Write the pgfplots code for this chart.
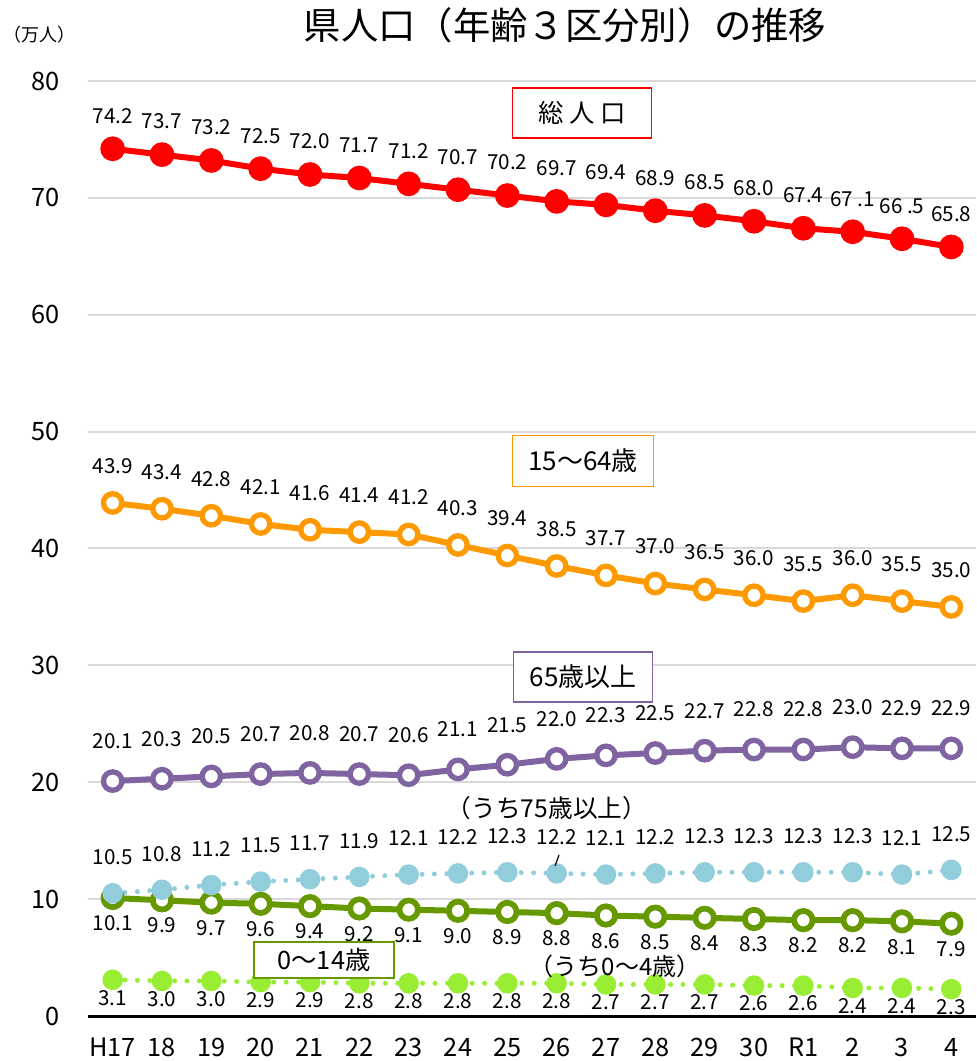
\documentclass[border=0pt]{standalone}
\usepackage{pgfplots}
\pgfplotsset{compat=1.18}
\usepackage{fontspec}
\setmainfont{Noto Sans CJK JP}
\definecolor{cRed}{RGB}{255,0,0}
\definecolor{cOrange}{RGB}{255,153,0}
\definecolor{cPurple}{RGB}{128,100,162}
\definecolor{cBlue}{RGB}{146,205,220}
\definecolor{cGreen}{RGB}{102,153,0}
\definecolor{cLime}{RGB}{153,238,51}
\definecolor{cGrid}{RGB}{217,217,217}
\begin{document}
\begin{tikzpicture}
\useasboundingbox (-66pt,-33.75pt) rectangle (666pt,762pt);
\begin{axis}[
  at={(0,0)}, anchor=south west,
  scale only axis, width=666pt, height=701.25pt,
  xmin=-0.5, xmax=17.5, ymin=0, ymax=80,
  xtick={0,...,17},
  xticklabels={H17,18,19,20,21,22,23,24,25,26,27,28,29,30,R1,2,3,4},
  ytick={0,10,...,80},
  ymajorgrids, grid style={cGrid, line width=1.5pt},
  axis x line=bottom, axis y line=left,
  axis line style={-}, y axis line style={draw=none},
  x axis line style={black, line width=2.25pt},
  major tick length=0pt,
  /pgf/number format/assume math mode=true,
  tick label style={font=\fontsize{19}{22}\selectfont},
  yticklabel style={anchor=east, inner sep=0pt, xshift=-21pt},
  xticklabel style={anchor=base, inner sep=0pt, yshift=-30.5pt},
  clip=false,
  nodes near coords style={font=\fontsize{15.5}{18}\selectfont, anchor=center, inner sep=0pt, text=black},
]
% total
\addplot[cRed, line width=4.5pt, mark=*, mark size=7pt, mark options={draw=none, fill=cRed},
  point meta=explicit symbolic, nodes near coords,
  every node near coord/.append style={yshift=24.75pt}]
coordinates {(0,74.2)[74.2] (1,73.7)[73.7] (2,73.2)[73.2] (3,72.5)[72.5] (4,72.0)[72.0] (5,71.7)[71.7]
 (6,71.2)[71.2] (7,70.7)[70.7] (8,70.2)[70.2] (9,69.7)[69.7] (10,69.4)[69.4] (11,68.9)[68.9]
 (12,68.5)[68.5] (13,68.0)[68.0] (14,67.4)[67.4] (15,67.1)[67 .1] (16,66.5)[66 .5] (17,65.8)[65.8]};
% 15-64
\addplot[cOrange, line width=4.5pt, mark=*, mark size=6.9pt, mark options={fill=white, draw=cOrange, line width=4pt},
  point meta=y, nodes near coords={\pgfmathprintnumber[fixed,fixed zerofill,precision=1,assume math mode=true]{\pgfplotspointmeta}},
  every node near coord/.append style={yshift=27.75pt}]
coordinates {(0,43.9) (1,43.4) (2,42.8) (3,42.1) (4,41.6) (5,41.4) (6,41.2) (7,40.3) (8,39.4)
 (9,38.5) (10,37.7) (11,37.0) (12,36.5) (13,36.0) (14,35.5) (15,36.0) (16,35.5) (17,35.0)};
% 65+
\addplot[cPurple, line width=4.5pt, mark=*, mark size=6.9pt, mark options={fill=white, draw=cPurple, line width=4pt},
  point meta=y, nodes near coords={\pgfmathprintnumber[fixed,fixed zerofill,precision=1,assume math mode=true]{\pgfplotspointmeta}},
  every node near coord/.append style={yshift=30pt}]
coordinates {(0,20.1) (1,20.3) (2,20.5) (3,20.7) (4,20.8) (5,20.7) (6,20.6) (7,21.1) (8,21.5)
 (9,22.0) (10,22.3) (11,22.5) (12,22.7) (13,22.8) (14,22.8) (15,23.0) (16,22.9) (17,22.9)};
% 0-14
\addplot[cGreen, line width=4.5pt, mark=*, mark size=6.9pt, mark options={fill=white, draw=cGreen, line width=4.3pt},
  point meta=y, nodes near coords={\pgfmathprintnumber[fixed,fixed zerofill,precision=1,assume math mode=true]{\pgfplotspointmeta}},
  every node near coord/.append style={yshift=-19pt}]
coordinates {(0,10.1) (1,9.9) (2,9.7) (3,9.6) (4,9.4) (5,9.2) (6,9.1) (7,9.0) (8,8.9)
 (9,8.8) (10,8.6) (11,8.5) (12,8.4) (13,8.3) (14,8.2) (15,8.2) (16,8.1) (17,7.9)};
% 75+
\addplot[cBlue, line width=3.75pt, line cap=round, dash pattern=on 0pt off 9.3pt,
  mark=*, mark size=5.8pt, mark options={solid, draw=none, fill=cBlue},
  point meta=y, nodes near coords={\pgfmathprintnumber[fixed,fixed zerofill,precision=1,assume math mode=true]{\pgfplotspointmeta}},
  every node near coord/.append style={yshift=27pt}]
coordinates {(0,10.5) (1,10.8) (2,11.2) (3,11.5) (4,11.7) (5,11.9) (6,12.1) (7,12.2) (8,12.3)
 (9,12.2) (10,12.1) (11,12.2) (12,12.3) (13,12.3) (14,12.3) (15,12.3) (16,12.1) (17,12.5)};
% 0-4
\addplot[cLime, line width=3.75pt, line cap=round, dash pattern=on 0pt off 9.3pt,
  mark=*, mark size=5.8pt, mark options={solid, draw=none, fill=cLime},
  point meta=y, nodes near coords={\pgfmathprintnumber[fixed,fixed zerofill,precision=1,assume math mode=true]{\pgfplotspointmeta}},
  every node near coord/.append style={yshift=-13.5pt}]
coordinates {(0,3.1) (1,3.0) (2,3.0) (3,2.9) (4,2.9) (5,2.8) (6,2.8) (7,2.8) (8,2.8)
 (9,2.8) (10,2.7) (11,2.7) (12,2.7) (13,2.6) (14,2.6) (15,2.4) (16,2.4) (17,2.3)};
\end{axis}
% title and unit
\node at (357.75pt,743.25pt) {\fontsize{28}{32}\selectfont 県人口（年齢３区分別）の推移};
\node at (-36pt,735.75pt) {\fontsize{13.5}{16}\selectfont （万人）};
% boxes
\node[draw=cRed, fill=white, line width=1.2pt, minimum width=104pt, minimum height=37.5pt, inner sep=0pt]
  at (370.5pt,677.25pt) {\fontsize{19}{22}\selectfont 総 人 口};
\node[draw=cOrange, fill=white, line width=1.2pt, minimum width=105.75pt, minimum height=38.25pt, inner sep=0pt]
  at (371.25pt,416.25pt) {\fontsize{19.5}{22}\selectfont 15～64歳};
\node[draw=cPurple, fill=white, line width=1.2pt, minimum width=104pt, minimum height=37.5pt, inner sep=0pt]
  at (371.25pt,254.25pt) {\fontsize{19.5}{22}\selectfont 65歳以上};
\node[draw=cGreen, fill=white, line width=1.2pt, minimum width=105pt, minimum height=27pt, inner sep=0pt]
  at (177pt,42pt) {\fontsize{19}{22}\selectfont 0～14歳};
\node at (344.25pt,156pt) {\fontsize{18.5}{22}\selectfont （うち75歳以上）};
\node at (395.25pt,37.5pt) {\fontsize{18}{21}\selectfont （うち0～4歳）};
\draw[black, line width=0.9pt] (350.25pt,112.5pt) -- (353.25pt,120.75pt);
\end{tikzpicture}
\end{document}
